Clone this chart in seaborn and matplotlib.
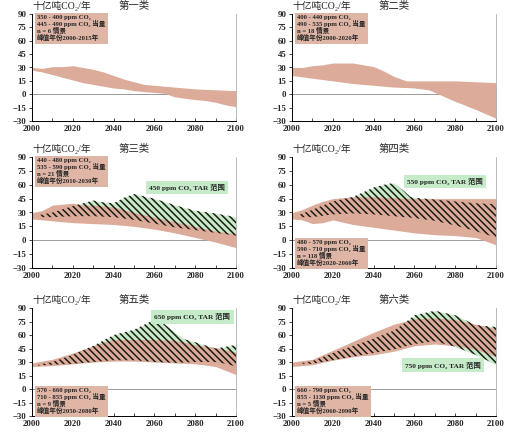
import numpy as np
import pandas as pd
import matplotlib
matplotlib.use("Agg")
import matplotlib.pyplot as plt
import seaborn as sns

sns.set_theme(style="white")
FAM = ["Liberation Serif", "Noto Sans CJK SC", "DejaVu Sans"]
plt.rcParams["font.family"] = FAM
plt.rcParams["hatch.linewidth"] = 1.1

BROWN = "#dcab9a"
BOX_BROWN = "#dfb5a6"
GREEN = "#c6ebc9"

titles = ["第一类", "第二类", "第三类", "第四类", "第五类", "第六类"]
ylabel = "十亿吨CO₂/年"

# ---- post-SRES ranges (brown) ----
p1_yr = [2000, 2005, 2010, 2015, 2020, 2025, 2030, 2035, 2040, 2045, 2050, 2055, 2060, 2065, 2070, 2080, 2085, 2090, 2095, 2100]
p1_hi = [30, 29, 31, 31, 32, 30, 28, 25, 21, 17, 14, 11, 10, 9, 8, 6, 5.5, 5, 4.5, 4]
p1_lo = [27, 25, 22, 19, 16, 13, 11, 9, 7, 6, 4, 3, 2, 1, -3, -6, -7, -9, -12, -14]

p2_yr = [2000, 2005, 2010, 2015, 2020, 2030, 2040, 2045, 2050, 2056, 2060, 2067, 2070, 2080, 2090, 2100]
p2_hi = [30, 30, 32, 33, 35, 35, 31, 26, 20, 15, 15, 15, 15, 15, 14, 13]
p2_lo = [21, 19.5, 18, 16.5, 15, 12, 10, 9, 8, 7.5, 7, 5, 2, -8, -17, -27]

p3_yr = [2000, 2005, 2010, 2015, 2020, 2025, 2030, 2040, 2050, 2060, 2070, 2080, 2090, 2100]
p3_hi = [30, 32, 38, 39, 40, 38, 38, 36, 30, 25, 20, 15, 10, 7]
p3_lo = [23, 22, 21, 20, 19, 18.5, 18, 17, 15, 12, 8, 3, -2, -8]

p4_yr = [2000, 2005, 2010, 2015, 2020, 2030, 2040, 2050, 2060, 2070, 2080, 2090, 2100]
p4_hi = [30, 33, 38, 42, 45, 47, 47, 46, 45, 45, 45, 45, 45]
p4_lo = [23, 22, 18, 19, 22, 17, 14, 11, 8, 6, 5, 3, -5]

p5_yr = [2000, 2010, 2020, 2030, 2035, 2040, 2050, 2060, 2070, 2075, 2080, 2090, 2100]
p5_hi = [29, 33, 40, 48, 52, 55, 55, 55, 54, 52, 49, 46, 41]
p5_lo = [25, 26, 28, 30, 30.5, 31, 31, 30, 29, 28.5, 28, 25, 16]

p6_yr = [2000, 2010, 2020, 2030, 2040, 2050, 2060, 2070, 2080, 2090, 2100]
p6_hi = [30, 33, 43, 53, 63, 72, 78, 79, 77, 72, 67]
p6_lo = [25, 27, 32, 36, 38, 42, 48, 50, 48, 44, 36]

# ---- TAR ranges (green, hatched) ----
t3_yr = [2003, 2010, 2020, 2025, 2030, 2035, 2040, 2045, 2050, 2060, 2070, 2080, 2090, 2100]
t3_hi = [27, 30, 37, 40, 43, 41, 40, 46, 50, 45, 38, 32, 29, 25]
t3_lo = [25, 25, 26, 26, 26, 25.5, 25, 23.5, 22, 18, 14, 11, 8, 5]

t4_yr = [2003, 2010, 2020, 2030, 2035, 2040, 2045, 2050, 2055, 2058, 2060, 2070, 2080, 2090, 2100]
t4_hi = [27, 33, 42, 47, 52, 57, 60, 62, 53, 47, 46, 44, 42, 40, 39]
t4_lo = [25, 25, 28, 29, 28.5, 28, 27, 26, 25, 24.5, 24, 21, 16, 10, 3]

t5_yr = [2003, 2010, 2020, 2030, 2040, 2050, 2060, 2065, 2070, 2075, 2080, 2090, 2095, 2100]
t5_hi = [27, 30, 38, 48, 60, 66, 77, 72, 63, 55, 52, 45, 47, 49]
t5_lo = [26, 27, 28, 30, 32, 32, 30, 29.5, 29, 29.5, 30, 30, 28, 25]

t6_yr = [2005, 2010, 2020, 2030, 2040, 2050, 2055, 2060, 2070, 2080, 2090, 2100]
t6_hi = [29, 31, 40, 48, 56, 65, 73, 82, 87, 82, 71, 69]
t6_lo = [28, 28, 32, 36, 40, 44, 47, 50, 53, 47, 38, 27]

info = [
    "350 - 400 ppm CO₂\n445 - 490 ppm CO₂ 当量\nn = 6 情景\n峰值年份2000-2015年",
    "400 - 440 ppm CO₂\n490 - 535 ppm CO₂ 当量\nn = 18 情景\n峰值年份2000-2020年",
    "440 - 480 ppm CO₂\n535 - 590 ppm CO₂ 当量\nn = 21 情景\n峰值年份2010-2030年",
    "480 - 570 ppm CO₂\n590 - 710 ppm CO₂ 当量\nn = 118 情景\n峰值年份2020-2060年",
    "570 - 660 ppm CO₂\n710 - 855 ppm CO₂ 当量\nn = 9 情景\n峰值年份2050-2080年",
    "660 - 790 ppm CO₂\n855 - 1130 ppm CO₂ 当量\nn = 5 情景\n峰值年份2060-2090年",
]
tar_labels = [None, None, "450 ppm CO₂ TAR 范围", "550 ppm CO₂ TAR 范围",
              "650 ppm CO₂ TAR 范围", "750 ppm CO₂ TAR 范围"]

bands = [(p1_yr, p1_lo, p1_hi), (p2_yr, p2_lo, p2_hi), (p3_yr, p3_lo, p3_hi),
         (p4_yr, p4_lo, p4_hi), (p5_yr, p5_lo, p5_hi), (p6_yr, p6_lo, p6_hi)]
tars = [None, None, (t3_yr, t3_lo, t3_hi), (t4_yr, t4_lo, t4_hi),
        (t5_yr, t5_lo, t5_hi), (t6_yr, t6_lo, t6_hi)]

info_pos = [(0.025, 0.99, "top"), (0.025, 0.99, "top"), (0.025, 0.99, "top"),
            (0.025, 0.015, "bottom"), (0.025, 0.015, "bottom"), (0.025, 0.015, "bottom")]
tar_pos = [None, None, (0.575, 0.725), (0.565, 0.78), (0.6, 0.92), (0.555, 0.47)]

W, H = 522, 436
fig = plt.figure(figsize=(W / 100, H / 100), dpi=100)
lefts = [32, 292]
rows = [(14, 121), (157, 268), (308, 416)]

for i in range(6):
    r, c = divmod(i, 2)
    top, bot = rows[r]
    left = lefts[c]
    ax = fig.add_axes([left / W, 1 - bot / H, 204 / W, (bot - top) / H])
    yr, lo, hi = bands[i]
    df = pd.DataFrame({"year": yr, "lo": lo, "hi": hi})
    if tars[i] is not None:
        tyr, tlo, thi = tars[i]
        tdf = pd.DataFrame({"year": tyr, "lo": tlo, "hi": thi})
        ax.fill_between(tdf["year"], tdf["lo"], tdf["hi"], color=GREEN, lw=0, zorder=1)
    ax.fill_between(df["year"], df["lo"], df["hi"], color=BROWN, lw=0, zorder=2)
    if tars[i] is not None:
        ax.fill_between(tdf["year"], tdf["lo"], tdf["hi"], facecolor="none",
                        edgecolor="#1c1c14", hatch="\\\\\\\\\\", lw=0, zorder=3)
    ax.axhline(0, color="#9a9a9a", lw=0.7, zorder=0)
    ax.set_xlim(2000, 2100)
    ax.set_ylim(-30, 90)
    ax.set_xticks(range(2000, 2101, 20))
    ax.set_xticks(range(2010, 2100, 20), minor=True)
    ax.set_yticks(range(-30, 91, 15))
    ax.tick_params(axis="x", which="both", direction="in", length=2.5, width=0.6,
                   labelsize=6.3, pad=3, bottom=True)
    ax.tick_params(axis="y", direction="out", length=2.5, width=0.6,
                   labelsize=6.3, pad=1.5, left=True)
    for lab in ax.get_xticklabels() + ax.get_yticklabels():
        lab.set_fontweight("bold")
    sns.despine(ax=ax, top=True, right=False)
    ax.spines["left"].set_color("black")
    ax.spines["left"].set_linewidth(0.7)
    ax.spines["bottom"].set_color("black")
    ax.spines["bottom"].set_linewidth(0.7)
    ax.spines["right"].set_color("#b0b0b0")
    ax.spines["right"].set_linewidth(0.6)
    ax.set_facecolor("white")

    ax.text(0.5, 1.03, titles[i], transform=ax.transAxes, ha="center", va="bottom",
            fontsize=7.5, family=FAM)
    ax.text(0.0, 1.03, ylabel, transform=ax.transAxes, ha="left", va="bottom",
            fontsize=7, family=FAM)

    ix, iy, iva = info_pos[i]
    ax.text(ix, iy, info[i], transform=ax.transAxes, ha="left", va=iva,
            fontsize=4.8, fontweight="bold", linespacing=1.0, family=FAM, zorder=5,
            bbox=dict(boxstyle="square,pad=0.35", fc=BOX_BROWN, ec="none"))
    if tar_labels[i] is not None:
        tx, ty = tar_pos[i]
        ax.text(tx, ty, tar_labels[i], transform=ax.transAxes, ha="left", va="center",
                fontsize=5.3, fontweight="bold", family=FAM, zorder=5,
                bbox=dict(boxstyle="square,pad=0.45", fc=GREEN, ec="none"))

fig.savefig("out.png", dpi=100, facecolor="white")
